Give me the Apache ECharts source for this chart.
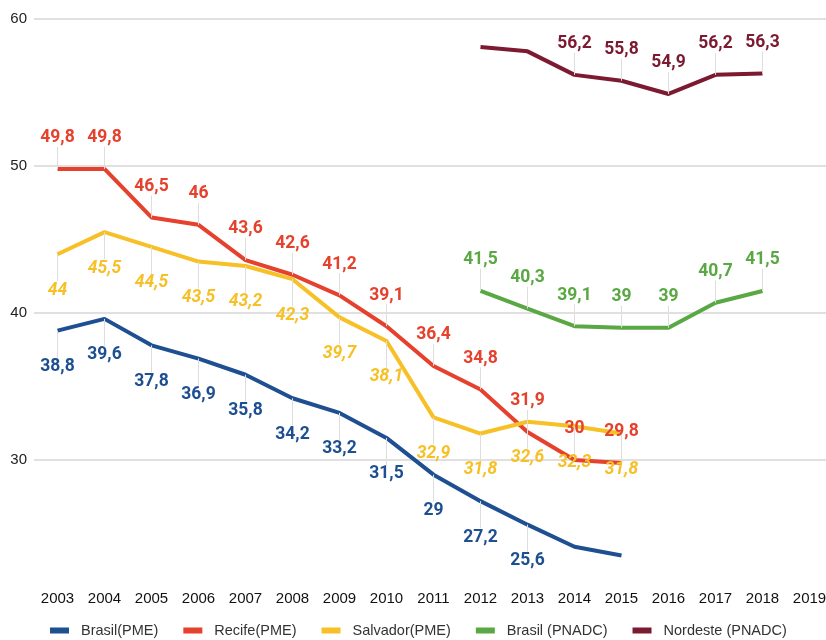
<!DOCTYPE html>
<html><head><meta charset="utf-8">
<script src="https://cdn.jsdelivr.net/npm/echarts@6/dist/echarts.min.js"></script>
<style>html,body{margin:0;padding:0;background:#fff}#c{width:826px;height:640px}</style>
</head><body><div id="c"></div>
<script>
const years = ['2003','2004','2005','2006','2007','2008','2009','2010','2011','2012','2013','2014','2015','2016','2017','2018','2019'];
const brasilPME   = [38.8,39.6,37.8,36.9,35.8,34.2,33.2,31.5,29,27.2,25.6,24.1,23.5,null,null,null,null];
const recifePME   = [49.8,49.8,46.5,46,43.6,42.6,41.2,39.1,36.4,34.8,31.9,30,29.8,null,null,null,null];
const salvadorPME = [44,45.5,44.5,43.5,43.2,42.3,39.7,38.1,32.9,31.8,32.6,32.3,31.8,null,null,null,null];
const brasilPNADC = [null,null,null,null,null,null,null,null,null,41.5,40.3,39.1,39,39,40.7,41.5,null];
const nordestePNADC = [null,null,null,null,null,null,null,null,null,58.1,57.8,56.2,55.8,54.9,56.2,56.3,null];
const yTicks = [30,40,50,60];

const unlabeled = {Brasil: [11,12], Nordeste: [9,10]};
const fmt = p => String(p.value).replace('.', ',');

function mk(name, arr, color, pos, italic, hideIdx) {
  const up = pos === 'top';
  return {
    name, type: 'line', data: arr.map((v,i) => (hideIdx||[]).includes(i) ? {value:v, label:{show:false}} : v),
    showSymbol: true, symbol: 'circle', symbolSize: 0.01, connectNulls: false,
    lineStyle: {width: 4, color}, itemStyle: {color},
    label: {show: true, position: pos, distance: 0, formatter: fmt, color,
      fontFamily: 'Roboto', fontWeight: 'bold', fontSize: 17.5, fontStyle: italic?'italic':'normal'},
    labelLayout: {dy: up ? -22 : 27},
    labelLine: {show: true, lineStyle: {color: '#dedede', width: 1}},
    emphasis: {disabled: true}, animation: false
  };
}

const chart = echarts.init(document.getElementById('c'), null, {renderer: 'canvas'});
chart.setOption({
  animation: false,
  grid: {left: 34, top: 19, width: 799, bottom: 33, containLabel: false, outerBoundsMode: 'none'},
  legend: {top: 618, left: 45, itemWidth: 19, itemHeight: 6, itemGap: 25, icon: 'rect',
    textStyle: {fontFamily: 'Liberation Sans', fontSize: 14.5, color: '#333', padding: [0,0,0,7]},
    data: ['Brasil(PME)','Recife(PME)','Salvador(PME)','Brasil (PNADC)','Nordeste (PNADC)']},
  xAxis: {type: 'category', data: years, boundaryGap: true, offset: -16,
    axisLine: {show: false}, axisTick: {show: false},
    axisLabel: {color: '#111', fontFamily: 'Liberation Sans', fontSize: 15, margin: 0, interval: 0}},
  yAxis: {type: 'value', min: 20, max: 60, interval: 10,
    axisLine: {show: false}, axisTick: {show: false},
    axisLabel: {color: '#222', fontFamily: 'Liberation Sans', fontSize: 15, margin: 7,
      formatter: v => yTicks.includes(v) ? String(v) : ''},
    splitLine: {lineStyle: {color: ['rgba(0,0,0,0)','#d6d6d6','#d6d6d6','#d6d6d6','#d6d6d6'], width: 1.5}}},
  series: [
    mk('Brasil(PME)', brasilPME, '#1d4f91', 'bottom', false, unlabeled.Brasil),
    mk('Recife(PME)', recifePME, '#e5412d', 'top', false),
    mk('Salvador(PME)', salvadorPME, '#f6c026', 'bottom', true),
    mk('Brasil (PNADC)', brasilPNADC, '#5aa843', 'top', false),
    mk('Nordeste (PNADC)', nordestePNADC, '#7b1a30', 'top', false, unlabeled.Nordeste)
  ]
});
</script></body></html>
